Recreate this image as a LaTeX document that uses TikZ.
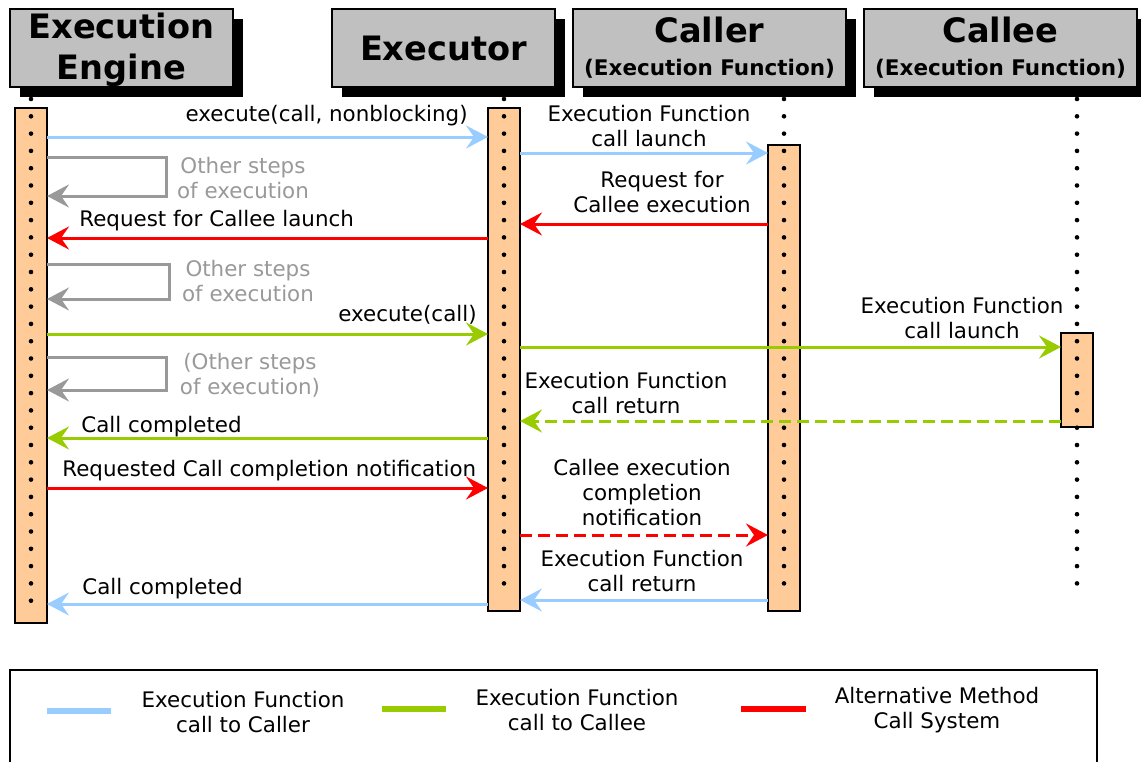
\documentclass[tikz,border=0pt]{standalone}
\usepackage{fontspec}
\setmainfont{DejaVu Sans}
\usetikzlibrary{arrows.meta,shadows}
\definecolor{cblue}{HTML}{99CCFF}
\definecolor{cgreen}{HTML}{99CC00}
\definecolor{cred}{HTML}{FF0000}
\definecolor{cgray}{HTML}{999999}
\definecolor{barorange}{HTML}{FFCC99}
\definecolor{hdrgray}{HTML}{C0C0C0}
\begin{document}
\begin{tikzpicture}[x=0.5pt,y=-0.5pt,
  hdr/.style={draw=black, line width=1pt, fill=hdrgray, inner sep=0pt,
    drop shadow={shadow xshift=5pt, shadow yshift=-5pt, fill=black, opacity=1},
    align=center, font=\bfseries\fontsize{16.8}{20.5}\selectfont, minimum height=39pt},
  bar/.style={draw=black, line width=1.3pt, fill=barorange, minimum width=16pt, inner sep=0pt, outer sep=0pt},
  lbl/.style={font=\fontsize{10.7}{12.5}\selectfont, align=center, inner sep=0pt},
  glbl/.style={lbl, text=cgray},
  msg/.style={line width=1.5pt, -{Stealth[length=11pt,width=11.5pt,inset=4pt]}},
  dmsg/.style={msg, dash pattern=on 6pt off 3pt},
  loopmsg/.style={msg, cgray},
  lifeline/.style={line width=2.3pt, line cap=round, dash pattern=on 0pt off 8.65pt},
  swatch/.style={line width=2.8pt}
]
\useasboundingbox (0,0) rectangle (1141,761);
\clip (0,0) rectangle (1141,761);

% headers
\node[hdr, minimum width=111.5pt] (ee) at (121.5,48) {\strut Execution\\Engine};
\node[hdr, minimum width=111.5pt] (ex) at (443.5,48) {Executor};
\node[hdr, minimum width=136.5pt] (cr) at (709.5,48) {Caller\\[-4pt]{\fontsize{10.75}{13}\selectfont (Execution Function)}};
\node[hdr, minimum width=136.5pt] (ce) at (1000.5,48) {Callee\\[-4pt]{\fontsize{10.75}{13}\selectfont (Execution Function)}};

% activation bars
\node[bar, minimum height=257.5pt] (eebar) at (31,365.5) {};
\node[bar, minimum height=251.5pt] (exbar) at (504,359.5) {};
\node[bar, minimum height=233pt] (crbar) at (784,378) {};
\node[bar, minimum height=47pt] (cebar) at (1077,380) {};

% lifelines
\draw[lifeline] (eebar.center |- 0,99) -- (eebar.center |- 0,605);
\draw[lifeline] (exbar.center |- 0,99) -- (exbar.center |- 0,600);
\draw[lifeline] (crbar.center |- 0,99) -- (crbar.center |- 0,600);
\draw[lifeline] (cebar.center |- 0,99) -- (cebar.center |- 0,600);

% messages
\draw[msg, cblue] (eebar.east |- 0,137) -- (exbar.west |- 0,137);
\node[lbl, anchor=east] (m1) at (468,116) {execute(call, nonblocking)};

\draw[msg, cblue] (exbar.east |- 0,153) -- (crbar.west |- 0,153);
\node[lbl] (m2) at (649,126) {Execution Function\\call launch};

\coordinate (k1) at (166,196);
\draw[loopmsg] (eebar.east |- 0,157) -| (k1) -- (eebar.east |- k1);
\node[glbl] (g1) at (243,178.5) {Other steps\\of execution};

\draw[msg, cred] (crbar.west |- 0,224) -- (exbar.east |- 0,224);
\node[lbl] (m3) at (662,192.5) {Request for\\Callee execution};

\draw[msg, cred] (exbar.west |- 0,238) -- (eebar.east |- 0,238);
\node[lbl, anchor=west] (m4) at (79,221) {Request for Callee launch};

\coordinate (k2) at (169,299);
\draw[loopmsg] (eebar.east |- 0,264) -| (k2) -- (eebar.east |- k2);
\node[glbl] (g2) at (248,281.5) {Other steps\\of execution};

\draw[msg, cgreen] (eebar.east |- 0,334) -- (exbar.west |- 0,334);
\node[lbl, anchor=east] (m5) at (477,315) {execute(call)};

\draw[msg, cgreen] (exbar.east |- 0,347) -- (cebar.west |- 0,347);
\node[lbl] (m6) at (962,318.5) {Execution Function\\call launch};

\coordinate (k3) at (166,390);
\draw[loopmsg] (eebar.east |- 0,357) -| (k3) -- (eebar.east |- k3);
\node[glbl] (g3) at (250,375.5) {(Other steps\\of execution)};

\draw[dmsg, cgreen] (cebar.west |- 0,421) -- (exbar.east |- 0,421);
\node[lbl] (m7) at (626,393.5) {Execution Function\\call return};

\draw[msg, cgreen] (exbar.west |- 0,438) -- (eebar.east |- 0,438);
\node[lbl, anchor=west] (m8) at (81,427) {Call completed};

\draw[msg, cred] (eebar.east |- 0,488) -- (exbar.west |- 0,488);
\node[lbl, anchor=west] (m9) at (62,471) {Requested Call completion notification};

\draw[dmsg, cred] (exbar.east |- 0,535) -- (crbar.west |- 0,535);
\node[lbl] (m10) at (642,493) {Callee execution\\completion\\notification};

\draw[msg, cblue] (crbar.west |- 0,600) -- (exbar.east |- 0,600);
\node[lbl] (m11) at (642,571.5) {Execution Function\\call return};

\draw[msg, cblue] (exbar.west |- 0,604) -- (eebar.east |- 0,604);
\node[lbl, anchor=west] (m12) at (82,589) {Call completed};

% legend
\node[draw=black, line width=1pt, inner sep=0pt, minimum width=543.5pt, minimum height=60pt] (legend) at (553.5,730) {};
\draw[swatch, cblue] (47,711) -- (111,711);
\node[lbl] (t1) at (243,712.5) {Execution Function\\call to Caller};
\draw[swatch, cgreen] (382,709) -- (446,709);
\node[lbl] (t2) at (577,710.5) {Execution Function\\call to Callee};
\draw[swatch, cred] (741,709) -- (806,709);
\node[lbl] (t3) at (937,710.5) {Alternative Method\\Call System};
\end{tikzpicture}
\end{document}
